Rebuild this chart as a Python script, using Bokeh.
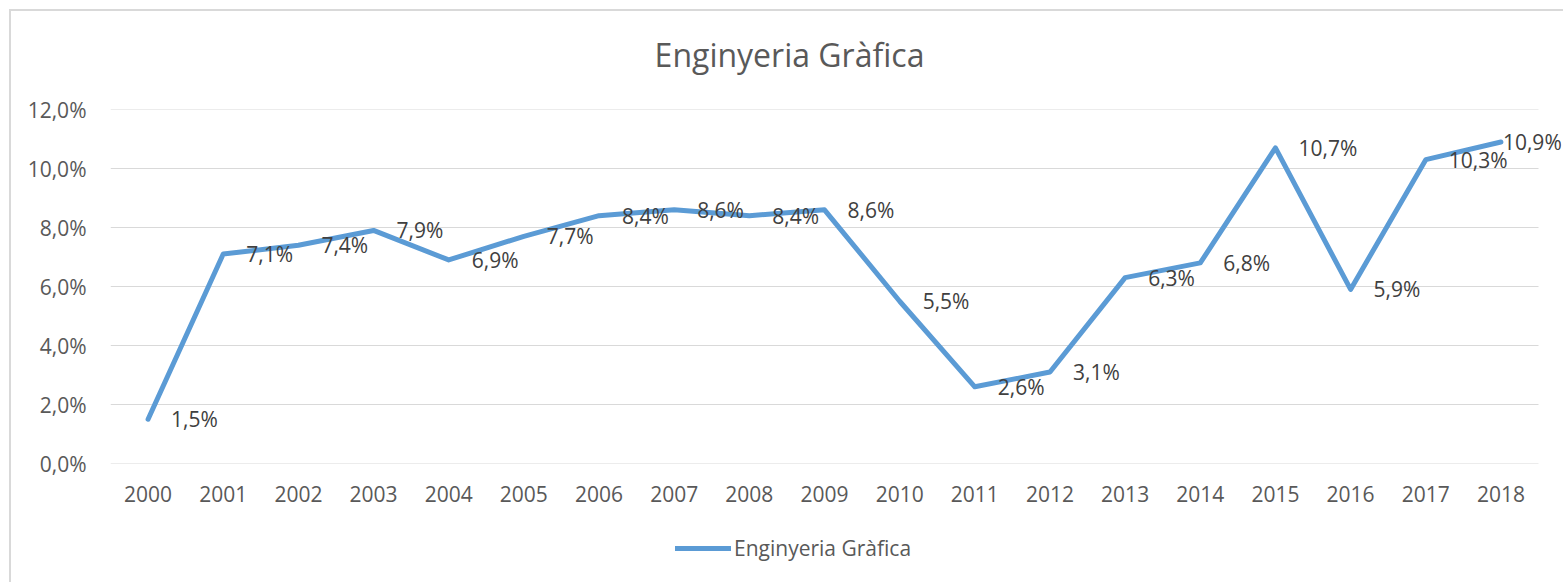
from bokeh.plotting import figure
from bokeh.layouts import column
from bokeh.models import (ColumnDataSource, FixedTicker, CustomJSTickFormatter,
                          Legend, LegendItem, Label, LabelSet, Range1d)
from bokeh.core.properties import value
from bokeh.embed import file_html
from bokeh.resources import INLINE

years = list(range(2000, 2019))
values = [1.5, 7.1, 7.4, 7.9, 6.9, 7.7, 8.4, 8.6, 8.4, 8.6,
          5.5, 2.6, 3.1, 6.3, 6.8, 10.7, 5.9, 10.3, 10.9]
series_name = "Enginyeria Gràfica"
y_ticks = [0, 2, 4, 6, 8, 10, 12]

FONT = "Open Sans"
TXT = "#595959"
LINE = "#5B9BD5"
GRID = "#D9D9D9"

W = 1552
labels = [f"{v:.1f}".replace(".", ",") + "%" for v in values]
offsets = [23] * (len(values) - 1) + [2]

src = ColumnDataSource(dict(x=years, y=values, lab=labels, xo=offsets))
grid_src = ColumnDataSource(dict(x0=[years[0] - 0.5] * len(y_ticks),
                                 x1=[years[-1] + 0.5] * len(y_ticks),
                                 y=y_ticks))

def strip(h):
    f = figure(width=W, height=h, x_range=Range1d(0, 1), y_range=Range1d(0, 1),
               output_backend="svg", toolbar_location=None,
               x_axis_location=None, y_axis_location=None,
               min_border_left=0, min_border_right=0,
               min_border_top=0, min_border_bottom=0)
    f.outline_line_color = None
    f.xgrid.grid_line_color = None
    f.ygrid.grid_line_color = None
    f.border_fill_color = "white"
    f.title.standoff = 0
    return f

# title strip
pt = strip(78)
pt.add_layout(Label(x=0, y=0, x_offset=679, y_offset=35, text=series_name,
                    text_align="center", text_baseline="alphabetic",
                    text_font=FONT, text_font_size="32px", text_color=TXT))

# main chart
p = figure(width=W, height=422, x_range=Range1d(years[0] - 0.5, 2018.806),
           y_range=(0, 12), output_backend="svg", toolbar_location=None,
           min_border_left=99, min_border_right=2,
           min_border_top=20, min_border_bottom=48)
p.outline_line_color = None
p.background_fill_color = "white"
p.border_fill_color = "white"
p.title.standoff = 0

p.segment("x0", "y", "x1", "y", source=grid_src, line_color=GRID, line_width=1)

r = p.line("x", "y", source=src, line_color=LINE, line_width=5,
           line_join="round", line_cap="round")

lbl = LabelSet(x="x", y="y", text="lab", source=src, x_offset="xo",
               text_font=value(FONT), text_font_size="21px", text_color="#404040",
               text_align="left", text_baseline="middle")
p.add_layout(lbl)

p.xaxis.ticker = FixedTicker(ticks=years)
p.xaxis.formatter = CustomJSTickFormatter(code="return tick.toFixed(0);")
p.yaxis.ticker = FixedTicker(ticks=y_ticks)
p.yaxis.formatter = CustomJSTickFormatter(
    code="return tick.toFixed(1).replace('.', ',') + '%';")
for ax in (p.xaxis[0], p.yaxis[0]):
    ax.axis_line_color = None
    ax.major_tick_line_color = None
    ax.minor_tick_line_color = None
    ax.major_label_text_font = FONT
    ax.major_label_text_font_size = "21px"
    ax.major_label_text_color = TXT
p.yaxis.major_label_standoff = 18
p.xaxis.major_label_standoff = 16

p.xgrid.grid_line_color = None
p.ygrid.grid_line_color = None

# legend strip
pl = strip(71)
rl = pl.line("x", "y", source=src, line_color=LINE, line_width=5, line_cap="round")
legend = Legend(items=[LegendItem(label=series_name, renderers=[rl])],
                location=(565, 20), orientation="horizontal",
                border_line_color=None, background_fill_alpha=0,
                padding=0, margin=0, glyph_width=56, glyph_height=20,
                label_height=20, label_standoff=3, label_text_font=FONT,
                label_text_font_size="21px", label_text_color=TXT)
pl.add_layout(legend, "center")

layout = column(pt, p, pl, spacing=0)
layout.margin = (9, 0, 0, 9)
layout.styles = {"border-left": "2px solid #D9D9D9", "border-top": "2px solid #D9D9D9"}

open("out.html", "w").write(file_html(layout, INLINE))
